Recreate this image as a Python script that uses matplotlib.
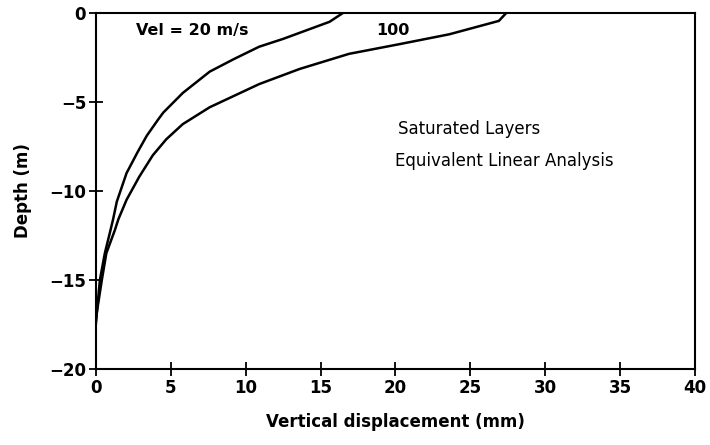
import matplotlib
matplotlib.use("Agg")
import matplotlib.pyplot as plt

# Vel = 20 m/s curve (displacement mm, depth m)
disp_20 = [16.5, 15.6, 12.5, 10.9, 9.2, 7.6, 5.8, 4.5, 4.15, 3.4, 2.8, 2.05, 1.4, 1.15, 0.95, 0.6, 0.27, 0.07, 0.0]
depth_20 = [0.0, -0.5, -1.46, -1.9, -2.6, -3.3, -4.5, -5.6, -6.0, -6.9, -7.8, -9.0, -10.6, -11.6, -12.3, -13.5, -15.0, -16.8, -17.3]

# Vel = 100 m/s curve
disp_100 = [27.4, 26.9, 23.6, 20.3, 16.9, 13.6, 10.9, 7.6, 5.8, 4.7, 3.8, 2.9, 2.05, 1.5, 1.27, 0.7, 0.4, 0.07, 0.0]
depth_100 = [0.0, -0.45, -1.2, -1.75, -2.3, -3.15, -4.0, -5.3, -6.25, -7.1, -8.0, -9.2, -10.5, -11.6, -12.2, -13.5, -15.0, -16.8, -17.5]

x_ticks = [0, 5, 10, 15, 20, 25, 30, 35, 40]
y_ticks = [0, -5, -10, -15, -20]

fig = plt.figure(figsize=(7.1, 4.45), dpi=100)
ax = fig.add_axes([0.135, 0.171, 0.844, 0.8])

ax.plot(disp_20, depth_20, color="black", lw=1.8, solid_joinstyle="round")
ax.plot(disp_100, depth_100, color="black", lw=1.8, solid_joinstyle="round")

ax.set_xlim(0, 40)
ax.set_ylim(-20, 0)
ax.set_xticks(x_ticks)
ax.set_yticks(y_ticks)
ax.set_yticklabels(["0", "\u22125", "\u221210", "\u221215", "\u221220"])
ax.tick_params(direction="inout", length=10, width=1.3, labelsize=12, pad=2)
for lab in ax.get_xticklabels() + ax.get_yticklabels():
    lab.set_fontweight("bold")
for s in ax.spines.values():
    s.set_linewidth(1.5)

ax.set_xlabel("Vertical displacement (mm)", fontsize=12, fontweight="bold", labelpad=12)
ax.set_ylabel("Depth (m)", fontsize=12, fontweight="bold", labelpad=12)

ax.text(2.7, -1.0, "Vel = 20 m/s", fontsize=11.5, fontweight="bold", va="center", ha="left")
ax.text(18.7, -1.0, "100", fontsize=11.5, fontweight="bold", va="center", ha="left")
ax.text(20.2, -6.5, "Saturated Layers", fontsize=12, va="center", ha="left")
ax.text(20.0, -8.3, "Equivalent Linear Analysis", fontsize=12, va="center", ha="left")

fig.savefig("out.png", dpi=100)
